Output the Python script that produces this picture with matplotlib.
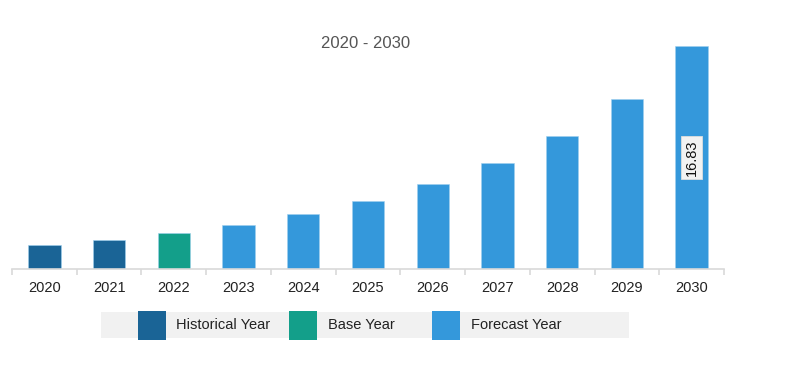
import numpy as np
import matplotlib.pyplot as plt
from matplotlib.patches import Rectangle

plt.rcParams['font.family'] = ['Liberation Sans', 'DejaVu Sans']

# data
years = ['2020', '2021', '2022', '2023', '2024', '2025', '2026', '2027', '2028', '2029', '2030']
values = [1.81, 2.19, 2.72, 3.32, 4.15, 5.13, 6.41, 8.00, 10.04, 12.84, 16.83]
kinds = ['hist', 'hist', 'base', 'fc', 'fc', 'fc', 'fc', 'fc', 'fc', 'fc', 'fc']
legend_labels = ['Historical Year', 'Base Year', 'Forecast Year']

colors = {'hist': '#1a6496', 'base': '#139f8a', 'fc': '#3498db'}

W, H = 785, 367
fig = plt.figure(figsize=(W / 100, H / 100), dpi=100)
# axes: x 12..724 px, baseline at y=269, top at y=30
ax = fig.add_axes([12 / W, 1 - 269 / H, 712 / W, 239 / H])

x = np.arange(len(years))
ax.bar(x, values, width=0.5, color=[colors[k] for k in kinds],
       edgecolor='#9fd0ee', linewidth=0.4)
ax.set_xlim(-0.5, len(years) - 0.5)
ax.set_ylim(0, values[-1] * 239 / 223)

for s in ['top', 'right', 'left']:
    ax.spines[s].set_visible(False)
ax.spines['bottom'].set_color('#d9d9d9')
ax.spines['bottom'].set_linewidth(1.2)
ax.set_yticks([])
ax.set_xticks(x)
ax.set_xticklabels(years, fontsize=10.5, color='#222222')
ax.tick_params(axis='x', which='major', length=0, pad=9)
ax.set_xticks(np.arange(-0.5, len(years), 1), minor=True)
ax.tick_params(axis='x', which='minor', length=4, color='#d9d9d9', width=1.2)

# value label on the last bar, a little above mid-height
ax.text(x[-1], values[-1] * 0.5, f'{values[-1]:.2f}',
        rotation=90, ha='center', va='center', fontsize=10.5, color='#111111',
        bbox=dict(boxstyle='square,pad=0.25', facecolor='#f2f2f2', edgecolor='#dddddd', linewidth=0.6))

fig.text(366 / W, 1 - 43 / H, '2020 - 2030', ha='center', va='center',
         fontsize=12, color='#555555')

# legend drawn as a grey band with coloured squares
fig.patches.append(Rectangle((101 / W, 1 - 338 / H), 528 / W, 26 / H,
                             transform=fig.transFigure, facecolor='#f1f1f1', edgecolor='none'))
patch_x = [138, 289, 432]
text_x = [176, 328, 471]
for px, tx, lab, k in zip(patch_x, text_x, legend_labels, ['hist', 'base', 'fc']):
    fig.patches.append(Rectangle((px / W, 1 - 340 / H), 28 / W, 29 / H,
                                 transform=fig.transFigure, facecolor=colors[k], edgecolor='none'))
    fig.text(tx / W, 1 - 325 / H, lab, ha='left', va='center', fontsize=10.5, color='#222222')

fig.savefig('out.png', dpi=100)
